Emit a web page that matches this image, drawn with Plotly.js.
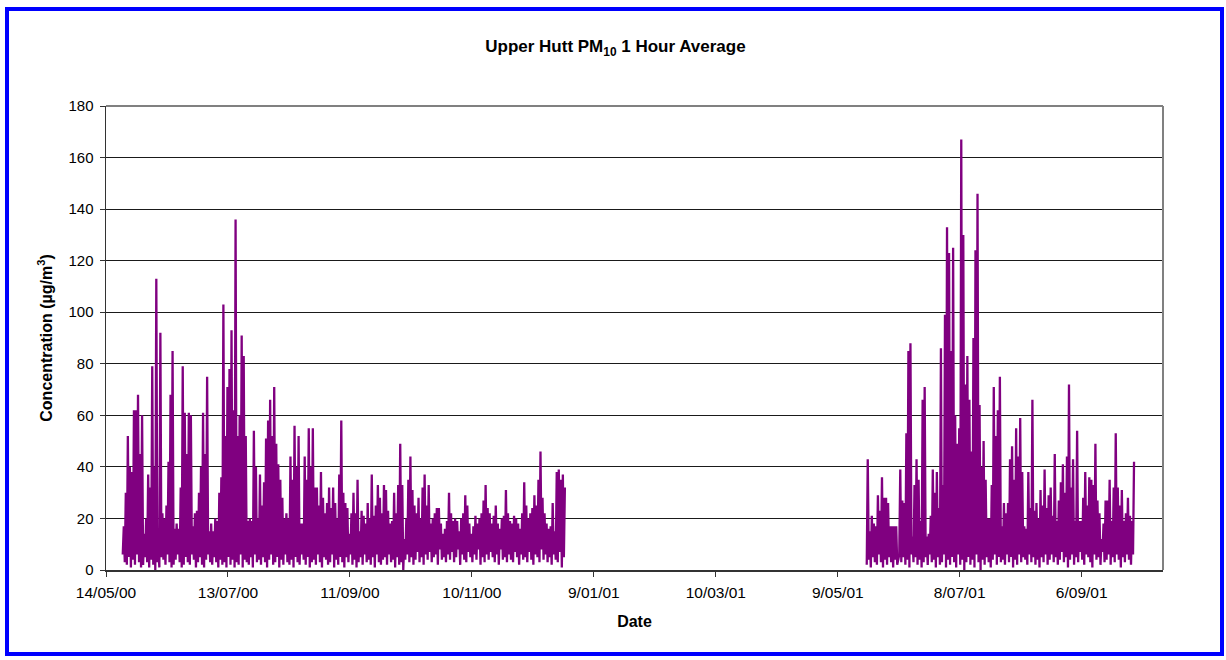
<!DOCTYPE html>
<html>
<head>
<meta charset="utf-8">
<script src="https://cdn.plot.ly/plotly-3.0.1.min.js"></script>
<style>
  html, body { margin: 0; padding: 0; background: #ffffff; }
  #wrap { position: relative; width: 1226px; height: 660px; }
  #chart { position: absolute; left: 0; top: 0; width: 1226px; height: 660px; }
  #frame { position: absolute; left: 5px; top: 7px; width: 1211px; height: 641px;
           border: 4px solid #0000ff; pointer-events: none; }
</style>
</head>
<body>
<div id="wrap"><div id="chart"></div><div id="frame"></div></div>
<script>
// ---- data (daily highest and lowest hourly PM10, µg/m3) ----
const seg1Start = '2000-05-22';
const seg1High = [
  17,30,52,40,38,62,62,68,45,60,
  14,20,37,32,79,40,113,8,92,22,
  20,25,42,68,85,16,18,16,32,79,
  61,45,61,60,17,22,23,30,40,61,
  45,75,15,18,15,20,19,30,36,103,
  52,71,78,93,62,136,52,60,91,83,
  52,19,20,19,54,40,20,37,25,34,
  51,58,66,52,71,49,41,35,28,20,
  22,20,44,35,56,40,52,18,18,44,
  35,55,40,55,32,32,25,38,28,22,
  26,32,24,32,26,20,37,58,30,26,
  24,14,22,30,22,35,15,23,21,18,
  26,20,37,21,25,33,28,22,33,31,
  23,18,19,30,22,33,49,33,12,20,
  35,44,31,25,22,28,20,32,37,25,
  33,18,20,22,24,24,18,14,16,19,
  30,22,19,20,19,15,20,22,29,25,
  18,14,17,21,18,20,22,27,33,24,
  22,18,21,25,18,16,20,21,31,22,
  19,18,21,20,18,16,22,34,25,20,
  22,24,29,25,35,46,28,22,18,16,
  17,26,15,38,39,35,37,32
];
const seg1Low = [
  6,3,2,5,1,4,2,6,3,1,
  2,5,3,1,4,2,0,3,1,5,
  4,2,6,3,1,2,4,6,3,1,
  2,5,3,2,6,4,1,3,5,2,
  1,4,6,3,2,5,3,1,4,2,
  3,1,5,2,4,1,3,2,6,1,
  4,3,2,5,1,6,3,4,2,5,
  3,1,4,6,2,3,5,1,4,2,
  6,3,2,4,1,5,3,2,6,4,
  2,5,1,3,4,2,6,3,1,5,
  4,2,3,6,1,4,2,5,3,1,
  5,3,6,2,4,1,3,5,2,6,
  3,4,2,5,1,6,3,2,4,5,
  2,6,3,4,1,5,2,3,0,4,
  6,3,5,2,4,7,3,5,2,6,
  4,7,3,5,6,2,8,4,5,3,
  6,4,7,3,5,8,2,6,4,3,
  7,5,3,6,4,8,2,5,3,6,
  4,7,5,3,6,2,8,4,5,3,
  6,4,3,7,5,2,6,4,5,3,
  7,4,2,6,5,3,8,4,6,3,
  5,2,6,4,3,7,1,5
];
const seg2Start = '2001-05-23';
const seg2High = [
  43,15,21,18,17,29,23,36,28,28,
  26,17,17,17,17,5,39,27,26,53,
  85,88,13,33,43,35,19,66,71,13,
  14,21,39,30,38,24,86,33,99,133,
  123,85,125,60,49,55,167,130,72,83,
  66,46,90,124,146,64,40,50,35,20,
  20,33,71,52,62,75,17,26,22,26,
  43,48,35,55,44,59,38,17,16,38,
  24,66,23,26,20,31,25,39,24,29,
  32,21,45,19,27,34,41,30,44,72,
  32,43,19,54,19,19,28,38,25,36,
  35,33,49,27,22,12,18,27,27,35,
  19,32,53,32,25,31,19,22,28,21,
  19,42
];
const seg2Low = [
  2,4,1,5,3,2,6,3,1,4,
  2,5,3,1,4,2,6,3,5,2,
  4,1,6,3,5,2,4,1,3,5,
  2,6,3,4,1,5,2,3,6,1,
  4,2,5,3,1,6,2,4,0,3,
  5,2,4,1,6,3,0,4,2,5,
  3,1,4,6,2,5,3,4,2,6,
  3,5,1,4,2,6,3,5,4,2,
  6,3,5,2,4,1,5,3,6,2,
  4,6,3,5,2,4,7,3,5,1,
  4,6,2,5,3,7,4,2,6,5,
  3,1,6,4,5,2,7,3,4,6,
  2,5,3,6,4,1,5,3,6,4,
  2,6
];
const tickDates = ['2000-05-14','2000-07-13','2000-09-11','2000-11-10','2001-01-09',
                   '2001-03-10','2001-05-09','2001-07-08','2001-09-06'];
const tickLabels = ['14/05/00','13/07/00','11/09/00','10/11/00','9/01/01',
                    '10/03/01','9/05/01','8/07/01','6/09/01'];
const axisStart = '2000-05-14';
const axisEnd = '2001-10-16';

// ---- build the hourly-looking trace ----
const DAY = 86400000;
function fmt(ms) { return new Date(ms).toISOString().slice(0, 19).replace('T', ' '); }
const xs = [], ys = [];
function addSeg(start, hi, lo) {
  const t0 = Date.parse(start + 'T00:00:00Z');
  for (let i = 0; i < hi.length; i++) {
    const base = t0 + i * DAY;
    xs.push(fmt(base + 0.25 * DAY)); ys.push(lo[i]);
    xs.push(fmt(base + 0.75 * DAY)); ys.push(hi[i]);
  }
  xs.push(fmt(t0 + hi.length * DAY)); ys.push(null);
}
addSeg(seg1Start, seg1High, seg1Low);
addSeg(seg2Start, seg2High, seg2Low);

const trace = {
  type: 'scatter', mode: 'lines', x: xs, y: ys,
  line: { color: '#800080', width: 2.3 },
  connectgaps: false, hoverinfo: 'skip'
};

const font = 'Liberation Sans, Arial, Helvetica, sans-serif';
const layout = {
  width: 1226, height: 660,
  margin: { l: 106, r: 63, t: 106, b: 90 },
  paper_bgcolor: '#ffffff', plot_bgcolor: '#ffffff',
  showlegend: false,
  font: { family: font, size: 15, color: '#000000' },
  title: {
    text: '<b>Upper Hutt PM<sub>10</sub> 1 Hour Average</b>',
    font: { family: font, size: 17, color: '#000000' },
    xref: 'container', x: 0.502, xanchor: 'center',
    yref: 'container', y: 1 - 46 / 660, yanchor: 'middle'
  },
  xaxis: {
    type: 'date', range: [axisStart, axisEnd],
    tickmode: 'array', tickvals: tickDates, ticktext: tickLabels,
    ticks: 'outside', ticklen: 5, tickwidth: 1, tickcolor: '#333333',
    ticklabelstandoff: 3,
    showline: true, linecolor: '#333333', linewidth: 1.5,
    showgrid: false, zeroline: false,
    tickfont: { family: font, size: 15.5, color: '#000000' },
    title: { text: '<b>Date</b>', font: { family: font, size: 16, color: '#000000' }, standoff: 15 }
  },
  yaxis: {
    range: [0, 180], tick0: 0, dtick: 20,
    ticks: 'outside', ticklen: 5, tickwidth: 1, tickcolor: '#333333',
    ticklabelstandoff: 3,
    showline: true, linecolor: '#333333', linewidth: 1.5,
    showgrid: true, gridcolor: '#1a1a1a', gridwidth: 1, zeroline: false,
    tickfont: { family: font, size: 15, color: '#000000' },
    title: { text: '<b>Concentration (µg/m<sup>3</sup>)</b>', font: { family: font, size: 16, color: '#000000' }, standoff: 12 }
  },
  shapes: [
    { type: 'line', xref: 'paper', yref: 'paper', x0: 0, x1: 1, y0: 1, y1: 1,
      line: { color: '#808080', width: 2 }, layer: 'above' },
    { type: 'line', xref: 'paper', yref: 'paper', x0: 1, x1: 1, y0: 0, y1: 1,
      line: { color: '#808080', width: 2 }, layer: 'above' }
  ]
};

Plotly.newPlot('chart', [trace], layout, { staticPlot: true, displayModeBar: false });
</script>
</body>
</html>
